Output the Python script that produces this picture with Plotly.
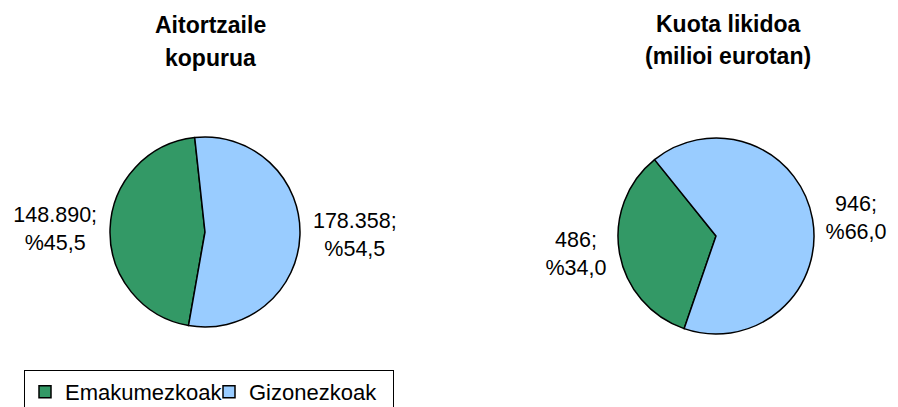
import plotly.graph_objects as go

labels = ['Emakumezkoak', 'Gizonezkoak']
aitortzaile = [148890, 178358]
aitortzaile_pct = [45.5, 54.5]
kuota = [486, 946]
kuota_pct = [34.0, 66.0]

colors = ['#339966', '#99CCFF']
font = 'Arial, Liberation Sans, sans-serif'


def fmt(vals, pcts):
    out = []
    for v, p in zip(vals, pcts):
        num = f'{v:,}'.replace(',', '.')
        pct = f'{p:.1f}'.replace('.', ',')
        out.append(f'{num};<br>%{pct}')
    return out


W, H = 898, 407
OFF = 8  # the page body has an 8px margin, so place things 8px up/left


def px(x):
    return (x - OFF) / W


def py(y):
    return 1 - (y - OFF) / H


def dom(cx, cy, r):
    return dict(x=[px(cx - r), px(cx + r)], y=[py(cy + r), py(cy - r)])


# counterclockwise: first slice spans from the rotation angle clockwise by its own size
fig = go.Figure()
fig.add_trace(go.Pie(
    labels=labels, values=aitortzaile, text=fmt(aitortzaile, aitortzaile_pct),
    textinfo='text', textposition='outside', sort=False,
    direction='counterclockwise', rotation=-170,
    marker=dict(colors=colors, line=dict(color='black', width=1.5)),
    textfont=dict(family=font, size=21.5, color='black'),
    domain=dom(205, 232, 95), legend='legend', hoverinfo='label+value'))
fig.add_trace(go.Pie(
    labels=labels, values=kuota, text=fmt(kuota, kuota_pct),
    textinfo='text', textposition='outside', sort=False,
    direction='counterclockwise', rotation=-161,
    marker=dict(colors=colors, line=dict(color='black', width=1.5)),
    textfont=dict(family=font, size=21.5, color='black'),
    domain=dom(716, 236, 98), legend='legend2', hoverinfo='label+value'))

titles = [('Aitortzaile', 210, 25), ('kopurua', 210, 58),
          ('Kuota likidoa', 728, 24), ('(milioi eurotan)', 728, 56)]
for txt, x, y in titles:
    fig.add_annotation(text=f'<b>{txt}</b>', x=px(x), y=py(y), xref='paper', yref='paper',
                       showarrow=False, xanchor='center', yanchor='middle', borderpad=0,
                       font=dict(family=font, size=23, color='black'))

leg = dict(orientation='h', xref='container', yref='container', xanchor='left', yanchor='top',
           bordercolor='black', borderwidth=1, bgcolor='white', entrywidth=139,
           font=dict(family=font, size=22, color='black'))
fig.update_layout(
    width=W, height=H, margin=dict(l=0, r=0, t=0, b=0, autoexpand=False),
    paper_bgcolor='white', plot_bgcolor='white',
    legend=dict(leg, x=px(24), y=py(370)),
    legend2=dict(leg, x=px(546), y=py(374)),
)

fig.write_html('out.html')
